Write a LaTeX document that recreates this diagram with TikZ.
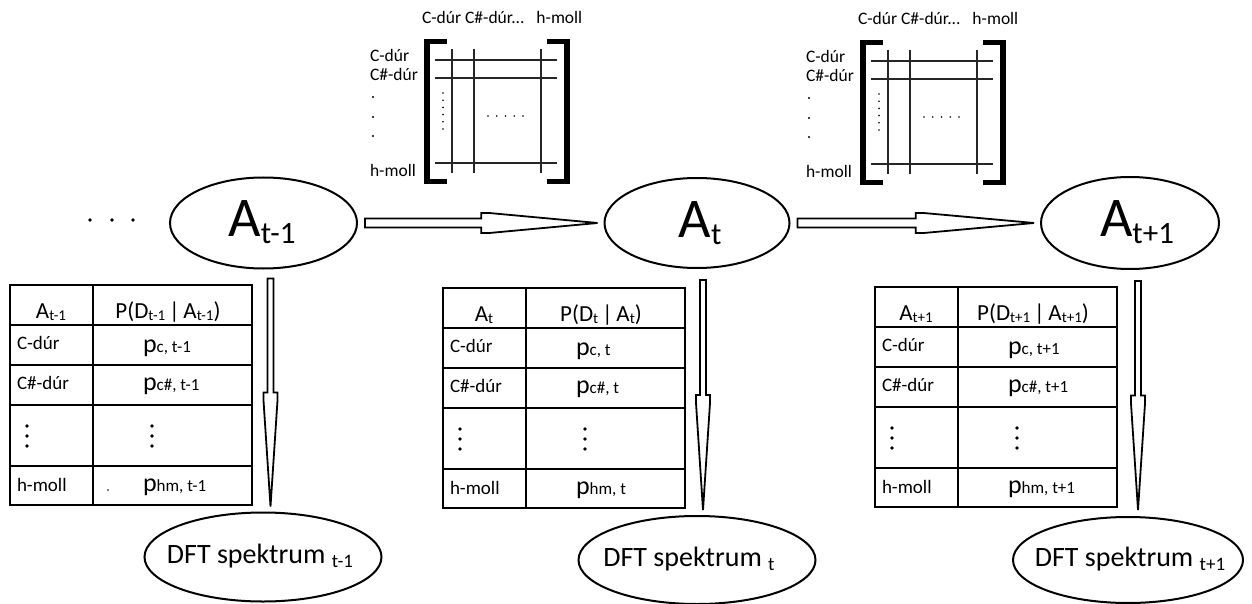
\documentclass[tikz,border=0pt]{standalone}
\usepackage{fontspec}
\setmainfont{Carlito}
\usetikzlibrary{shapes.geometric,calc}
\newcommand{\mysub}[3]{\raisebox{-#1pt}{\fontsize{#2}{#2}\selectfont #3}}
\tikzset{
  every node/.style={inner sep=0pt, outer sep=0pt},
  ell/.style={draw, ellipse, line width=2pt, inner sep=0pt},
  tline/.style={line width=2.7pt},
  hollow/.style={draw, line width=1.8pt, fill=white, line join=miter},
  mgrid/.style={line width=1.1pt, black!85},
  brk/.style={line width=5.5pt, line cap=butt, line join=miter},
  lbl/.style={font=\fontsize{19}{19}\selectfont, anchor=base west},
  pl/.style={font=\fontsize{26}{26}\selectfont, anchor=base west},
  hdr/.style={font=\fontsize{23}{23}\selectfont, anchor=base},
  mlbl/.style={font=\fontsize{17.5}{17.5}\selectfont, anchor=west},
  bigA/.style={font=\fontsize{56}{56}\selectfont, anchor=base},
  dft/.style={font=\fontsize{28}{28}\selectfont, anchor=base},
}
\newcommand{\hollowH}[3]{\draw[hollow] ($(#1)+(0,-4.5)$) -- ($(#2)+(0,-4.5)$) -- ($(#2)+(0,-10)$) -- ($(#2)+(8,-10)$) -- (#3) -- ($(#2)+(8,10)$) -- ($(#2)+(0,10)$) -- ($(#2)+(0,4.5)$) -- ($(#1)+(0,4.5)$) -- cycle;}
\newcommand{\hollowV}[3]{\draw[hollow] ($(#1)+(-3,0)$) -- ($(#2)+(-3,0)$) -- ($(#2)+(-7,0)$) -- ($(#2)+(-7,8)$) -- (#3) -- ($(#2)+(7,8)$) -- ($(#2)+(7,0)$) -- ($(#2)+(3,0)$) -- ($(#1)+(3,0)$) -- cycle;}
\newcommand{\kmatrix}[3]{%
  \begin{scope}[shift={(#2,#3)}]
    \node[mlbl] (#1ch) at (422,17) {C-dúr C\#-dúr...\hspace{12pt}h-moll};
    \node[mlbl] (#1r1) at (370,55) {C-dúr};
    \node[mlbl] (#1r2) at (370,74) {C\#-dúr};
    \node[mlbl] (#1r3) at (370,170) {h-moll};
    \foreach \yy in {97,117,136} \fill (373,\yy) circle (1.2);
    \draw[brk] (447,41.5) -- (427,41.5) -- (427,181.5) -- (447,181.5);
    \draw[brk] (547,41.5) -- (567,41.5) -- (567,181.5) -- (547,181.5);
    \foreach \yy in {60,78,163} \draw[mgrid] (435,\yy) -- (557,\yy);
    \foreach \xx in {452,474,541} \draw[mgrid] (\xx,49) -- (\xx,173);
    \foreach \k in {0,...,5} \fill (443,93+7.2*\k) circle (0.9);
    \foreach \k in {0,...,4} \fill (488+8.75*\k,116) circle (0.9);
  \end{scope}}
\newcommand{\ptable}[4]{%
  \begin{scope}[shift={(#2,#3)}]
    \draw[tline] (0,0) rectangle (242,220);
    \draw[tline] (83,0) -- (83,220);
    \foreach \yy in {40,80,120,181} \draw[tline] (0,\yy) -- (242,\yy);
    \node[hdr] (#1ha) at (41,33) {A\mysub{2}{15}{#4}};
    \node[hdr] (#1hp) at (158,33) {P(D\mysub{2}{15}{#4}\,|\,A\mysub{2}{15}{#4})};
    \node[lbl] (#1l1) at (7,64) {C-dúr};
    \node[lbl] (#1l2) at (7,104) {C\#-dúr};
    \node[lbl] (#1l4) at (7,206) {h-moll};
    \node[pl] (#1p1) at (133,67) {p\mysub{0}{17}{c, #4}};
    \node[pl] (#1p2) at (133,105) {p\mysub{0}{17}{c\#, #4}};
    \node[pl] (#1p4) at (133,206) {p\mysub{0}{17}{hm, #4}};
    \foreach \yy in {141,151,161} {\fill (17,\yy) circle (1.8); \fill (142,\yy) circle (1.8);}
  \end{scope}}
\begin{document}
\begin{tikzpicture}[x=1pt, y=-1pt]
\useasboundingbox (0,0) rectangle (1252,604);
% left dots
\foreach \xx in {90,112,133} \fill (\xx,220) circle (1.8);
% matrices
\kmatrix{m1}{0}{0}
\kmatrix{m2}{436}{1}
% state ellipses
\node[ell, minimum width=187pt, minimum height=91pt] (A1) at (263.5,223) {};
\node[ell, minimum width=185pt, minimum height=90pt] (A2) at (697,223) {};
\node[ell, minimum width=178pt, minimum height=92pt] (A3) at (1130,223) {};
\node[bigA] (A1t) at (262,236) {A\mysub{7}{31}{t-1}};
\node[bigA] (A2t) at (700,237) {A\mysub{7}{31}{t}};
\node[bigA] (A3t) at (1137,236) {A\mysub{7}{31}{t+1}};
% DFT ellipses
\node[ell, minimum width=237pt, minimum height=89pt] (D1) at (263,557) {};
\node[ell, minimum width=237pt, minimum height=88pt] (D2) at (697,560) {};
\node[ell, minimum width=230pt, minimum height=86pt] (D3) at (1128,560) {};
\node[dft] (D1t) at (260,563) {DFT spektrum \mysub{4}{19}{t-1}};
\node[dft] (D2t) at (689,566) {DFT spektrum \mysub{4}{19}{t}};
\node[dft] (D3t) at (1130,566) {DFT spektrum \mysub{4}{19}{t+1}};
% tables
\ptable{T1}{10}{285}{t-1}
\ptable{T2}{443}{288}{t}
\ptable{T3}{875}{287}{t+1}
\fill (108,490) circle (0.9);
% horizontal arrows
\coordinate (h1s) at ($(A1.east)+(8,0)$);
\coordinate (h1t) at ($(A2.west)+(-7,0)$);
\coordinate (h1b) at ($(h1s)!0.5!(h1t)$);
\hollowH{h1s}{h1b}{h1t}
\coordinate (h2s) at ($(A2.east)+(8,0)$);
\coordinate (h2t) at ($(A3.west)+(-7,0)$);
\coordinate (h2b) at ($(h2s)!0.5!(h2t)$);
\hollowH{h2s}{h2b}{h2t}
% vertical arrows
\coordinate (v1s) at ($(A1.south)+(7,10)$);
\coordinate (v1t) at ($(v1s |- D1.north)+(0,-6)$);
\coordinate (v1b) at ($(v1s)!0.5!(v1t)$);
\hollowV{v1s}{v1b}{v1t}
\coordinate (v2s) at ($(A2.south)+(6,12)$);
\coordinate (v2t) at ($(v2s |- D2.north)+(0,-6)$);
\coordinate (v2b) at ($(v2s)!0.5!(v2t)$);
\hollowV{v2s}{v2b}{v2t}
\coordinate (v3s) at ($(A3.south)+(8,12)$);
\coordinate (v3t) at ($(v3s |- D3.north)+(0,-7)$);
\coordinate (v3b) at ($(v3s)!0.5!(v3t)$);
\hollowV{v3s}{v3b}{v3t}
\end{tikzpicture}
\end{document}
